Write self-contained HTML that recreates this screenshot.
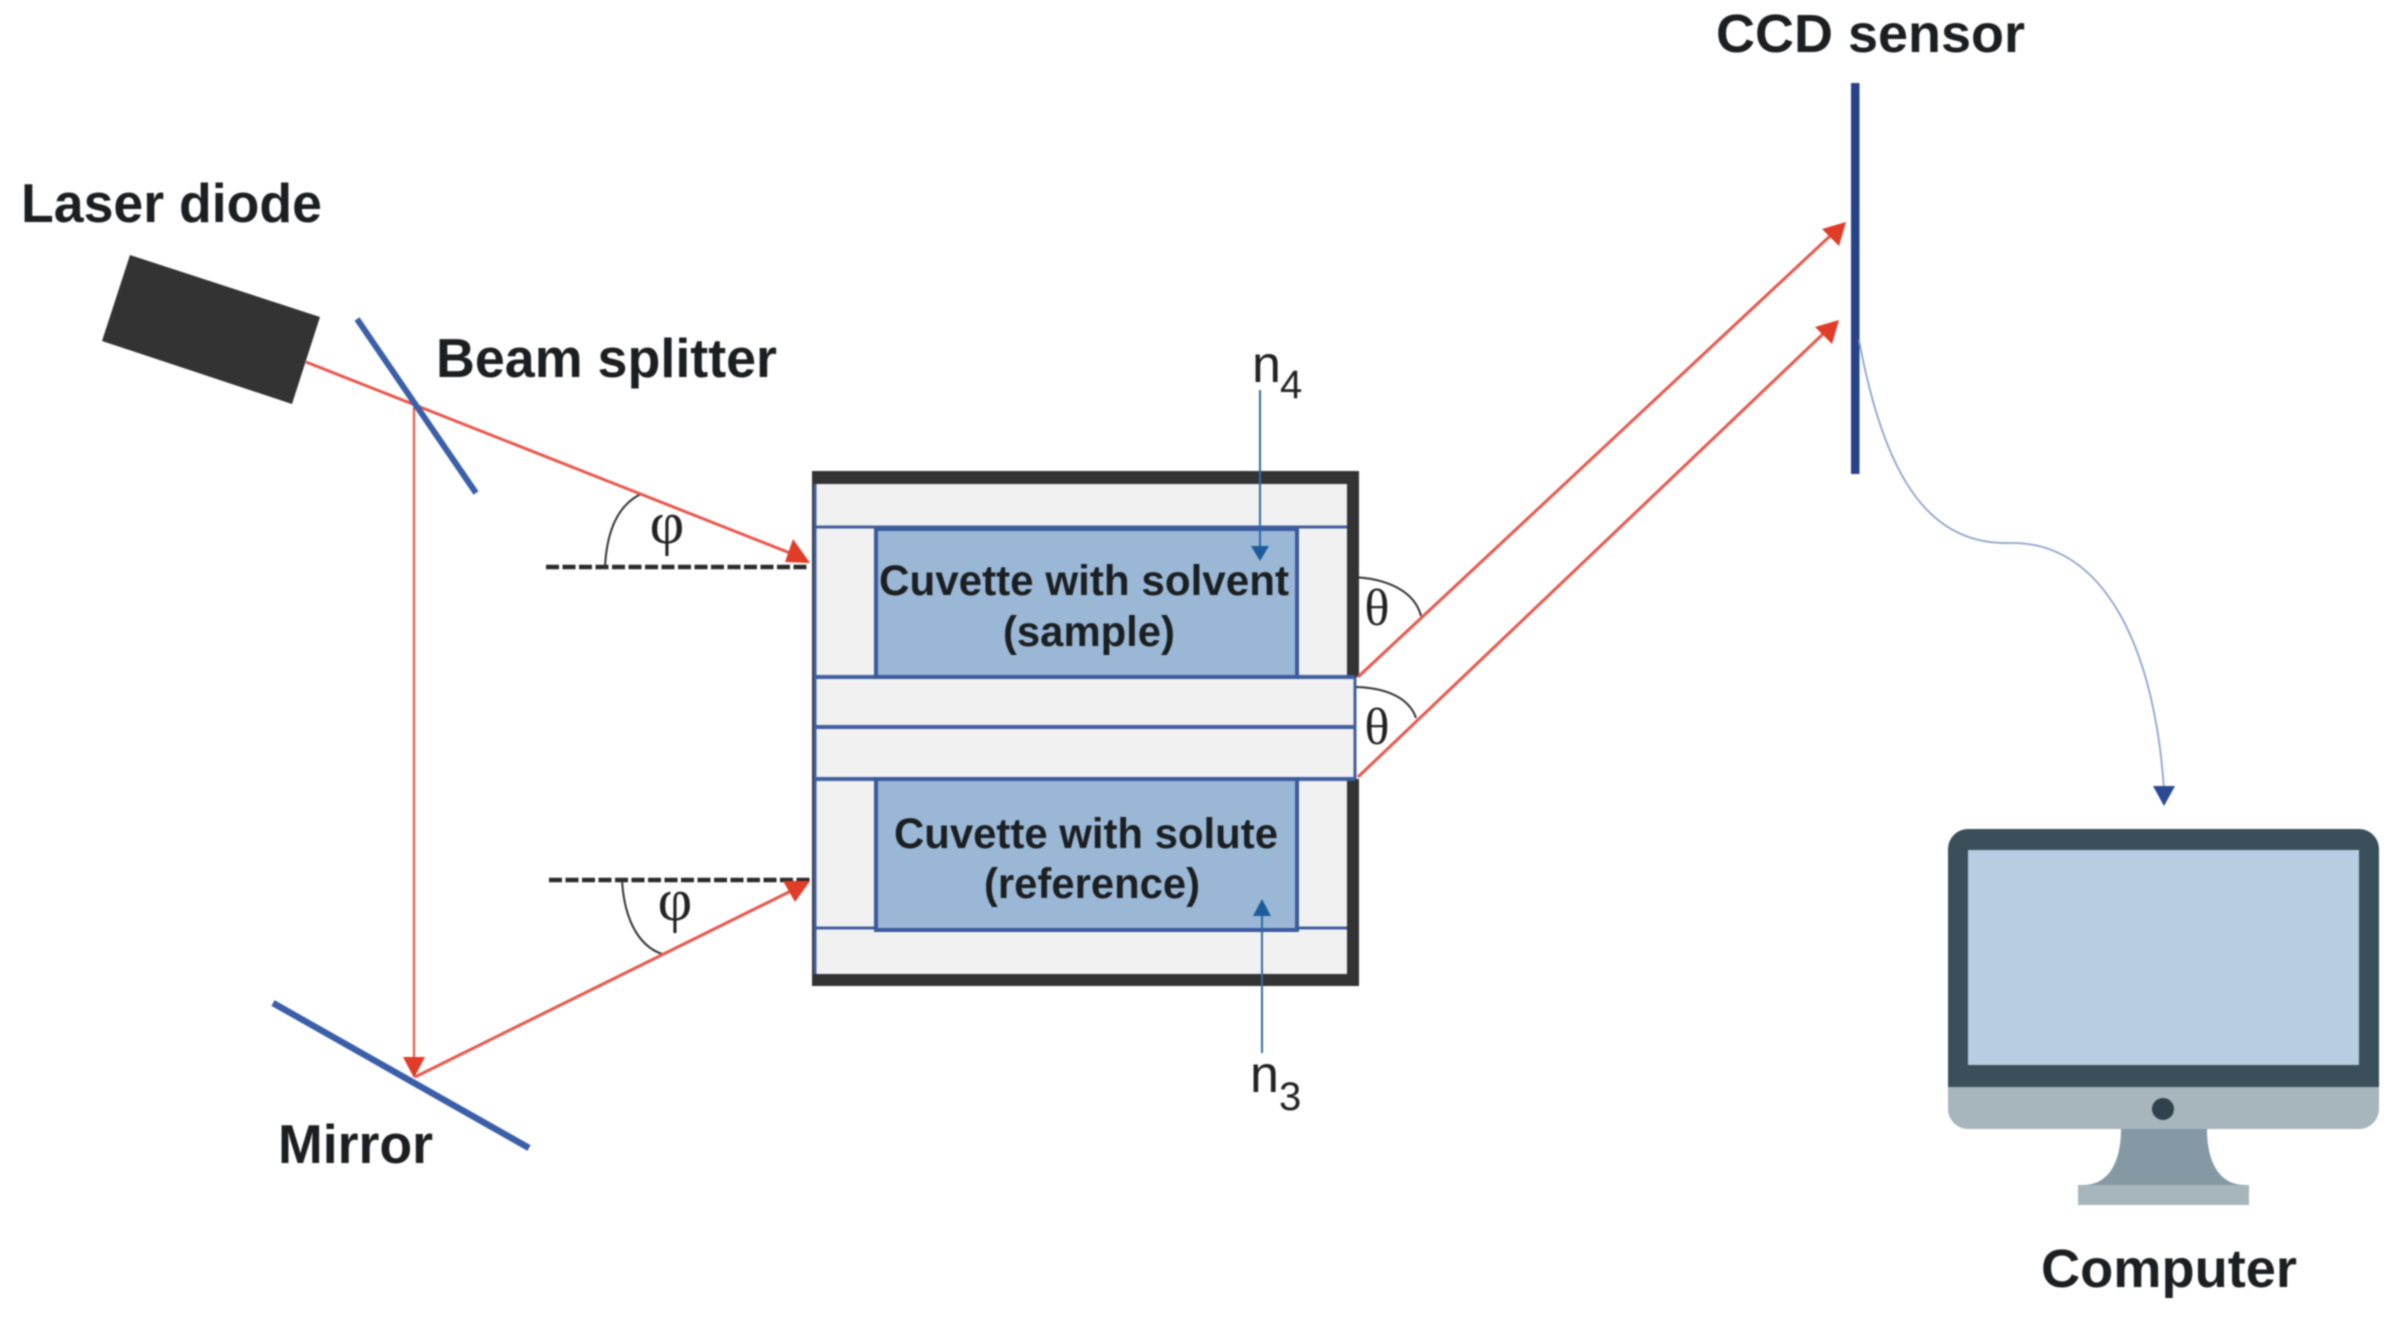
<!DOCTYPE html>
<html><head><meta charset="utf-8">
<style>
html,body{margin:0;padding:0;background:#fff;width:2399px;height:1317px;overflow:hidden}
svg{display:block;filter:blur(.9px)}
.b{font-family:"Liberation Sans",sans-serif;font-weight:bold;fill:#1c1f21}
.r{font-family:"Liberation Sans",sans-serif;fill:#222}
.g{font-family:"Liberation Serif",serif;fill:#222}
</style></head><body>
<svg width="2399" height="1317" viewBox="0 0 2399 1317" xmlns="http://www.w3.org/2000/svg">
<rect width="2399" height="1317" fill="#fff"/>

<!-- cuvette assembly -->
<rect x="812" y="471" width="547" height="515" fill="#333"/>
<rect x="816" y="484" width="531" height="490" fill="#f1f1f1"/>
<rect x="1347" y="677" width="12" height="102" fill="#fff"/>
<rect x="816" y="677" width="539" height="102" fill="#f1f1f1"/>
<g stroke="#3f5f9f" fill="none" stroke-width="3">
<line x1="815" y1="484" x2="815" y2="974"/>
<line x1="815" y1="527" x2="1347" y2="527"/>
<line x1="815" y1="928" x2="1347" y2="928"/>
<line x1="815" y1="677" x2="1355" y2="677" stroke-width="4"/>
<line x1="815" y1="727" x2="1355" y2="727" stroke-width="4"/>
<line x1="815" y1="779" x2="1355" y2="779" stroke-width="4"/>
<line x1="1355" y1="677" x2="1355" y2="779"/>
</g>
<rect x="876" y="529" width="421" height="148" fill="#9ab8d6" stroke="#3a5a9c" stroke-width="4"/>
<rect x="876" y="779" width="421" height="151" fill="#9ab8d6" stroke="#3a5a9c" stroke-width="4"/>
<text class="b" x="879" y="595" font-size="43" textLength="410" lengthAdjust="spacingAndGlyphs">Cuvette with solvent</text>
<text class="b" x="1003" y="646" font-size="43" textLength="172" lengthAdjust="spacingAndGlyphs">(sample)</text>
<text class="b" x="894" y="848" font-size="43" textLength="384" lengthAdjust="spacingAndGlyphs">Cuvette with solute</text>
<text class="b" x="984" y="898" font-size="43" textLength="216" lengthAdjust="spacingAndGlyphs">(reference)</text>

<!-- laser -->
<polygon points="130,255 320,317 292,404 102,341" fill="#333"/>

<!-- dashed normals -->
<g stroke="#2a2a2a" stroke-width="4.5" stroke-dasharray="13 3.5" fill="none">
<line x1="546" y1="567" x2="810" y2="567"/>
<line x1="549" y1="880" x2="812" y2="880"/>
</g>

<!-- angle arcs -->
<g stroke="#333" stroke-width="2" fill="none">
<path d="M605 566 C607 530 618 505 641 494"/>
<path d="M622 880 C624 915 636 945 662 954"/>
<path d="M1351 577 C1388 578 1415 592 1421 616"/>
<path d="M1356 687 C1390 688 1410 700 1416 718"/>
</g>

<!-- red beams -->
<g stroke="#e8574c" stroke-width="3" fill="none">
<line x1="306" y1="362" x2="795" y2="555"/>
<line x1="414" y1="407" x2="414" y2="1060" stroke-width="2.2"/>
<line x1="415" y1="1077" x2="795" y2="889"/>
<line x1="1358" y1="677" x2="1830" y2="236"/>
<line x1="1358" y1="777" x2="1824" y2="333"/>
</g>
<g fill="#e03c28">
<polygon points="810,563 785,562 793,539"/>
<polygon points="414,1078 403,1057 425,1057"/>
<polygon points="810,881 795,902 783,881"/>
<polygon points="1846,222 1839,246 1822,229"/>
<polygon points="1839,320 1832,344 1815,327"/>
</g>

<!-- splitter and mirror -->
<line x1="357" y1="319" x2="476" y2="493" stroke="#3a5ea8" stroke-width="6"/>
<line x1="273" y1="1003" x2="529" y2="1148" stroke="#3a5ea8" stroke-width="6.5"/>

<!-- sensor -->
<rect x="1851" y="83" width="8.5" height="391" fill="#26438a"/>
<path d="M1859 340 C1885 480 1930 545 2010 543 C2105 541 2155 650 2164 790" fill="none" stroke="#8ea3cc" stroke-width="1.8"/>
<polygon points="2164,806 2153,786 2175,786" fill="#2b4a92"/>

<!-- n arrows -->
<g stroke="#2f6ba5" stroke-width="2" fill="none">
<line x1="1260" y1="390" x2="1260" y2="548"/>
<line x1="1262" y1="914" x2="1262" y2="1053"/>
</g>
<polygon points="1260,561 1251,546 1269,546" fill="#1d5c9c"/>
<polygon points="1262,899 1253,916 1271,916" fill="#1d5c9c"/>

<!-- monitor -->
<path d="M2121 1129 H2207 C2207 1160 2218 1185 2245 1185 H2083 C2110 1185 2121 1160 2121 1129Z" fill="#8599a5"/>
<rect x="2078" y="1185" width="171" height="20" fill="#a7b5bc"/>
<path d="M1948 1087 H2379 V1109 A20 20 0 0 1 2359 1129 H1968 A20 20 0 0 1 1948 1109Z" fill="#a7b5bc"/>
<path d="M1968 829 H2359 A20 20 0 0 1 2379 849 V1087 H1948 V849 A20 20 0 0 1 1968 829Z" fill="#3a4f59"/>
<rect x="1968" y="850" width="391" height="215" fill="#b7cde2"/>
<circle cx="2163" cy="1109" r="11" fill="#2f424e"/>

<!-- labels -->
<text class="b" x="21" y="222" font-size="55" textLength="301" lengthAdjust="spacingAndGlyphs">Laser diode</text>
<text class="b" x="436" y="377" font-size="55" textLength="341" lengthAdjust="spacingAndGlyphs">Beam splitter</text>
<text class="b" x="278" y="1163" font-size="55" textLength="155" lengthAdjust="spacingAndGlyphs">Mirror</text>
<text class="b" x="1716" y="52" font-size="54" textLength="309" lengthAdjust="spacingAndGlyphs">CCD sensor</text>
<text class="b" x="2041" y="1287" font-size="54" textLength="256" lengthAdjust="spacingAndGlyphs">Computer</text>

<text class="r" x="1252" y="382" font-size="52">n</text>
<text class="r" x="1280" y="398" font-size="40">4</text>
<text class="r" x="1250" y="1092" font-size="52">n</text>
<text class="r" x="1279" y="1110" font-size="40">3</text>

<text class="g" x="667" y="543" font-size="60" text-anchor="middle">φ</text>
<text class="g" x="675" y="920" font-size="60" text-anchor="middle">φ</text>
<text class="g" x="1377" y="625" font-size="52" text-anchor="middle">θ</text>
<text class="g" x="1377" y="744" font-size="52" text-anchor="middle">θ</text>
</svg>
</body></html>
